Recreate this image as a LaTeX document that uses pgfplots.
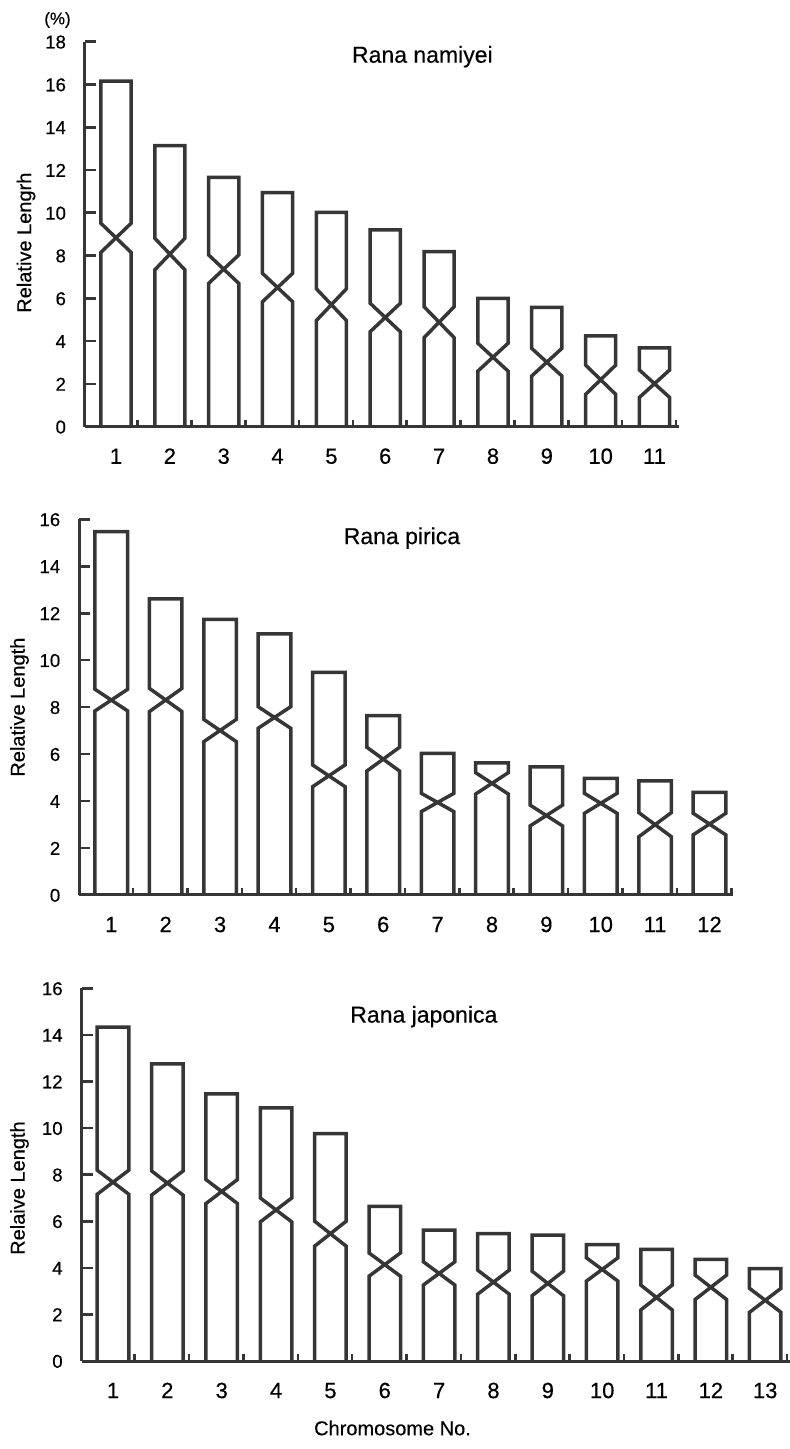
\documentclass[border=0pt]{standalone}
\usepackage{pgfplots}
\pgfplotsset{compat=1.18}
\usepackage{fontspec}
\setmainfont{Liberation Sans}[FakeBold=0.4]
\definecolor{ink}{HTML}{363636}
\pgfplotsset{
  chrom/.style={line width=1.75pt, color=ink, line join=miter, mark=none},
  panel/.style={
    scale only axis, clip=false,
    axis x line=bottom, axis y line=left,
    axis line style={-, line width=1.5pt, ink},
    ymin=0, ytick distance=2,
    tick align=inside,
    major tick length=5.5pt,
    minor tick length=3.5pt,
    every tick/.style={line width=1.3pt, ink},
    major x tick style={draw=none},
    /pgf/number format/assume math mode=true,
    yticklabel style={font=\fontsize{9.3}{9.3}\selectfont, xshift=-6pt, text height=6.8pt, text depth=0pt},
    xticklabel style={font=\fontsize{11}{11}\selectfont, anchor=north, text height=8pt, text depth=0pt, yshift=-7pt},
    ylabel style={font=\fontsize{10}{10}\selectfont, anchor=center},
    xlabel style={font=\fontsize{10}{10}\selectfont, anchor=center},
  },
}
\begin{document}
\begin{tikzpicture}
\useasboundingbox (0,0) rectangle (395pt,724.5pt);
% ---------------- Panel 1: Rana namiyei ----------------
\begin{axis}[panel,
  at={(42.5pt,511.15pt)}, anchor=south west,
  width=297pt, height=192.5pt,
  xmin=0.4243, xmax=11.455, ymax=18,
  xtick={1,...,11},
  minor xtick={1.4,2.4,3.4,4.4,5.4,6.4,7.4,8.4,9.4,10.4,11.4},
  ylabel={Relative Lengrh},
  ylabel style={at={(axis description cs:-0.0993,0.478)}},
]
\addplot[chrom] coordinates {(0.72,0)(0.72,8.15)(1.28,9.51)(1.28,16.16)(0.72,16.16)(0.72,9.51)(1.28,8.15)(1.28,0)};
\addplot[chrom] coordinates {(1.72,0)(1.72,7.33)(2.28,8.81)(2.28,13.14)(1.72,13.14)(1.72,8.81)(2.28,7.33)(2.28,0)};
\addplot[chrom] coordinates {(2.72,0)(2.72,6.70)(3.28,8.03)(3.28,11.66)(2.72,11.66)(2.72,8.03)(3.28,6.70)(3.28,0)};
\addplot[chrom] coordinates {(3.72,0)(3.72,5.84)(4.28,7.17)(4.28,10.94)(3.72,10.94)(3.72,7.17)(4.28,5.84)(4.28,0)};
\addplot[chrom] coordinates {(4.72,0)(4.72,4.96)(5.28,6.45)(5.28,10.02)(4.72,10.02)(4.72,6.45)(5.28,4.96)(5.28,0)};
\addplot[chrom] coordinates {(5.72,0)(5.72,4.44)(6.28,5.77)(6.28,9.20)(5.72,9.20)(5.72,5.77)(6.28,4.44)(6.28,0)};
\addplot[chrom] coordinates {(6.72,0)(6.72,4.16)(7.28,5.61)(7.28,8.18)(6.72,8.18)(6.72,5.61)(7.28,4.16)(7.28,0)};
\addplot[chrom] coordinates {(7.72,0)(7.72,2.60)(8.28,3.90)(8.28,6.00)(7.72,6.00)(7.72,3.90)(8.28,2.60)(8.28,0)};
\addplot[chrom] coordinates {(8.72,0)(8.72,2.37)(9.28,3.66)(9.28,5.58)(8.72,5.58)(8.72,3.66)(9.28,2.37)(9.28,0)};
\addplot[chrom] coordinates {(9.72,0)(9.72,1.51)(10.28,2.88)(10.28,4.25)(9.72,4.25)(9.72,2.88)(10.28,1.51)(10.28,0)};
\addplot[chrom] coordinates {(10.72,0)(10.72,1.37)(11.28,2.65)(11.28,3.69)(10.72,3.69)(10.72,2.65)(11.28,1.37)(11.28,0)};
\node[font=\fontsize{8.5}{8.5}\selectfont] at (axis description cs:-0.0463,1.0564) {(\%)};
\node[font=\fontsize{11.5}{11.5}\selectfont, anchor=base west] at (axis description cs:0.4377,0.9455) {Rana namiyei};
\end{axis}
% ---------------- Panel 2: Rana pirica ----------------
\begin{axis}[panel,
  at={(39.65pt,277pt)}, anchor=south west,
  width=327pt, height=187.85pt,
  xmin=0.4115, xmax=12.438, ymax=16,
  xtick={1,...,12},
  minor xtick={1.4,2.4,3.4,4.4,5.4,6.4,7.4,8.4,9.4,10.4,11.4,12.4},
  ylabel={Relative Length},
  ylabel style={at={(axis description cs:-0.0914,0.5)}},
]
\addplot[chrom] coordinates {(0.70,0)(0.70,7.84)(1.30,8.76)(1.30,15.47)(0.70,15.47)(0.70,8.76)(1.30,7.84)(1.30,0)};
\addplot[chrom] coordinates {(1.70,0)(1.70,7.81)(2.30,8.80)(2.30,12.61)(1.70,12.61)(1.70,8.80)(2.30,7.81)(2.30,0)};
\addplot[chrom] coordinates {(2.70,0)(2.70,6.53)(3.30,7.48)(3.30,11.74)(2.70,11.74)(2.70,7.48)(3.30,6.53)(3.30,0)};
\addplot[chrom] coordinates {(3.70,0)(3.70,7.10)(4.30,8.02)(4.30,11.12)(3.70,11.12)(3.70,8.02)(4.30,7.10)(4.30,0)};
\addplot[chrom] coordinates {(4.70,0)(4.70,4.61)(5.30,5.54)(5.30,9.48)(4.70,9.48)(4.70,5.54)(5.30,4.61)(5.30,0)};
\addplot[chrom] coordinates {(5.70,0)(5.70,5.28)(6.30,6.29)(6.30,7.64)(5.70,7.64)(5.70,6.29)(6.30,5.28)(6.30,0)};
\addplot[chrom] coordinates {(6.70,0)(6.70,3.55)(7.30,4.33)(7.30,6.03)(6.70,6.03)(6.70,4.33)(7.30,3.55)(7.30,0)};
\addplot[chrom] coordinates {(7.70,0)(7.70,4.30)(8.30,5.21)(8.30,5.63)(7.70,5.63)(7.70,5.21)(8.30,4.30)(8.30,0)};
\addplot[chrom] coordinates {(8.70,0)(8.70,2.94)(9.30,3.83)(9.30,5.46)(8.70,5.46)(8.70,3.83)(9.30,2.94)(9.30,0)};
\addplot[chrom] coordinates {(9.70,0)(9.70,3.48)(10.30,4.33)(10.30,4.97)(9.70,4.97)(9.70,4.33)(10.30,3.48)(10.30,0)};
\addplot[chrom] coordinates {(10.70,0)(10.70,2.48)(11.30,3.51)(11.30,4.86)(10.70,4.86)(10.70,3.51)(11.30,2.48)(11.30,0)};
\addplot[chrom] coordinates {(11.70,0)(11.70,2.56)(12.30,3.48)(12.30,4.37)(11.70,4.37)(11.70,3.48)(12.30,2.56)(12.30,0)};
\node[font=\fontsize{11.5}{11.5}\selectfont, anchor=base west] at (axis description cs:0.3936,0.934) {Rana pirica};
\end{axis}
% ---------------- Panel 3: Rana japonica ----------------
\begin{axis}[panel,
  at={(40.85pt,44pt)}, anchor=south west,
  width=354.15pt, height=186.35pt,
  xmin=0.424, xmax=13.456, ymax=16,
  xtick={1,...,13},
  minor xtick={1.4,2.4,3.4,4.4,5.4,6.4,7.4,8.4,9.4,10.4,11.4,12.4,13.4},
  ylabel={Relaive Length},
  ylabel style={at={(axis description cs:-0.0878,0.464)}},
  xlabel={Chromosome No.},
  xlabel style={at={(axis description cs:0.4388,-0.18)}},
]
\addplot[chrom] coordinates {(0.71,0)(0.71,7.16)(1.29,8.19)(1.29,14.33)(0.71,14.33)(0.71,8.19)(1.29,7.16)(1.29,0)};
\addplot[chrom] coordinates {(1.71,0)(1.71,7.12)(2.29,8.16)(2.29,12.76)(1.71,12.76)(1.71,8.16)(2.29,7.12)(2.29,0)};
\addplot[chrom] coordinates {(2.71,0)(2.71,6.76)(3.29,7.79)(3.29,11.47)(2.71,11.47)(2.71,7.79)(3.29,6.76)(3.29,0)};
\addplot[chrom] coordinates {(3.71,0)(3.71,5.97)(4.29,7.00)(4.29,10.87)(3.71,10.87)(3.71,7.00)(4.29,5.97)(4.29,0)};
\addplot[chrom] coordinates {(4.71,0)(4.71,4.93)(5.29,6.00)(5.29,9.76)(4.71,9.76)(4.71,6.00)(5.29,4.93)(5.29,0)};
\addplot[chrom] coordinates {(5.71,0)(5.71,3.64)(6.29,4.64)(6.29,6.64)(5.71,6.64)(5.71,4.64)(6.29,3.64)(6.29,0)};
\addplot[chrom] coordinates {(6.71,0)(6.71,3.26)(7.29,4.26)(7.29,5.62)(6.71,5.62)(6.71,4.26)(7.29,3.26)(7.29,0)};
\addplot[chrom] coordinates {(7.71,0)(7.71,2.87)(8.29,3.90)(8.29,5.47)(7.71,5.47)(7.71,3.90)(8.29,2.87)(8.29,0)};
\addplot[chrom] coordinates {(8.71,0)(8.71,2.80)(9.29,3.86)(9.29,5.40)(8.71,5.40)(8.71,3.86)(9.29,2.80)(9.29,0)};
\addplot[chrom] coordinates {(9.71,0)(9.71,3.43)(10.29,4.43)(10.29,5.00)(9.71,5.00)(9.71,4.43)(10.29,3.43)(10.29,0)};
\addplot[chrom] coordinates {(10.71,0)(10.71,2.19)(11.29,3.26)(11.29,4.79)(10.71,4.79)(10.71,3.26)(11.29,2.19)(11.29,0)};
\addplot[chrom] coordinates {(11.71,0)(11.71,2.64)(12.29,3.69)(12.29,4.36)(11.71,4.36)(11.71,3.69)(12.29,2.64)(12.29,0)};
\addplot[chrom] coordinates {(12.71,0)(12.71,2.09)(13.29,3.12)(13.29,3.97)(12.71,3.97)(12.71,3.12)(13.29,2.09)(13.29,0)};
\node[font=\fontsize{11.5}{11.5}\selectfont, anchor=base west] at (axis description cs:0.3693,0.908) {Rana japonica};
\end{axis}
\end{tikzpicture}
\end{document}
